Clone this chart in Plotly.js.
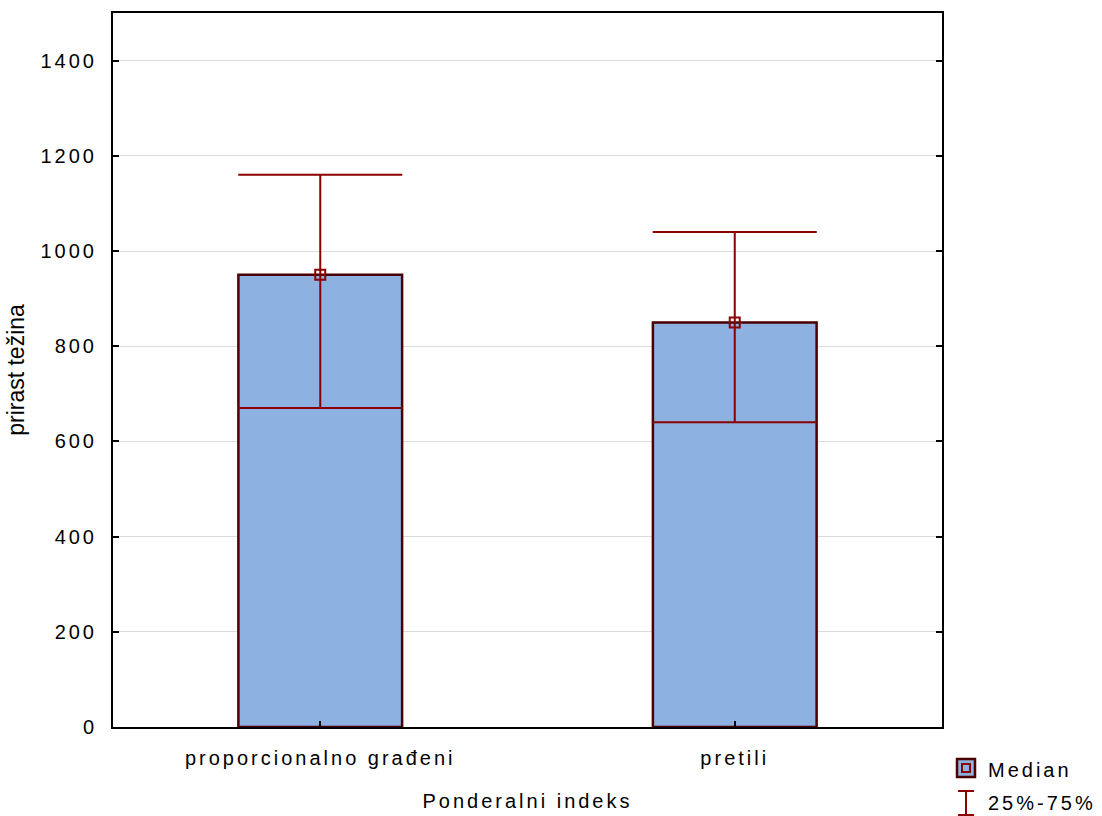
<!DOCTYPE html>
<html>
<head>
<meta charset="utf-8">
<script src="https://cdn.plot.ly/plotly-3.0.1.min.js"></script>
<style>
  html, body { margin: 0; padding: 0; background: #fff; }
  #chart { width: 1102px; height: 816px; }
  .xtick text, .ytick text, .g-xtitle text, .annotation-text { letter-spacing: 3px; }
</style>
</head>
<body>
<div id="chart"></div>
<script>
// Data
const categories = ["proporcionalno građeni", "pretili"];
const medians = [950, 850];
const q25 = [670, 640];
const q75 = [1160, 1040];
const yTickVals = [0, 200, 400, 600, 800, 1000, 1200, 1400];
const legendLabels = ["Median", "25%-75%"];

const fillColor = "#8DB1E1";
const edgeColor = "#4A0000";
const whiskerColor = "#8B0000";
const font = "Liberation Sans, Arial, sans-serif";

// layout geometry
const W = 1102, H = 816;
const mL = 113, mR = 160, mT = 13, mB = 89;
const pw = W - mL - mR, ph = H - mT - mB;
const px = x => (x - mL) / pw;
const py = y => (H - mB - y) / ph;

const barTrace = {
  type: "bar",
  x: categories,
  y: medians,
  width: 0.395,
  marker: { color: fillColor, line: { color: edgeColor, width: 2.5 } },
  error_y: {
    type: "data",
    symmetric: false,
    array: q75.map((v, i) => v - medians[i]),
    arrayminus: medians.map((v, i) => v - q25[i]),
    color: whiskerColor,
    thickness: 2,
    width: 82
  },
  hoverinfo: "skip",
  showlegend: false
};

const medTrace = {
  type: "scatter",
  mode: "markers",
  x: categories,
  y: medians,
  marker: { symbol: "square-open", size: 10, color: whiskerColor, line: { color: whiskerColor, width: 2 } },
  hoverinfo: "skip",
  showlegend: false
};

const shapes = [
  // legend: median icon
  { type: "rect", xref: "paper", yref: "paper",
    x0: px(957), x1: px(975), y0: py(777), y1: py(759),
    fillcolor: fillColor, line: { color: edgeColor, width: 2.5 } },
  { type: "rect", xref: "paper", yref: "paper",
    x0: px(962), x1: px(970), y0: py(772), y1: py(764),
    fillcolor: "rgba(0,0,0,0)", line: { color: whiskerColor, width: 2 } },
  // legend: whisker icon
  { type: "line", xref: "paper", yref: "paper",
    x0: px(966), x1: px(966), y0: py(815), y1: py(791),
    line: { color: whiskerColor, width: 2 } },
  { type: "line", xref: "paper", yref: "paper",
    x0: px(958), x1: px(974), y0: py(791), y1: py(791),
    line: { color: whiskerColor, width: 2 } },
  { type: "line", xref: "paper", yref: "paper",
    x0: px(958), x1: px(974), y0: py(815), y1: py(815),
    line: { color: whiskerColor, width: 2 } }
];

const annotations = [
  { xref: "paper", yref: "paper", x: px(986), y: py(770), xanchor: "left", yanchor: "middle",
    text: legendLabels[0], showarrow: false, font: { family: font, size: 20, color: "#000" } },
  { xref: "paper", yref: "paper", x: px(986), y: py(803), xanchor: "left", yanchor: "middle",
    text: legendLabels[1], showarrow: false, font: { family: font, size: 20, color: "#000" } }
];

const layout = {
  width: W, height: H,
  margin: { l: mL, r: mR, t: mT, b: mB, pad: 0 },
  paper_bgcolor: "#fff",
  plot_bgcolor: "#fff",
  font: { family: font, size: 20, color: "#000" },
  showlegend: false,
  xaxis: {
    type: "category",
    range: [-0.5, 1.5],
    showline: true, linecolor: "#000", linewidth: 2, mirror: true,
    ticks: "inside", ticklen: 6, tickwidth: 2, tickcolor: "#000",
    ticklabelstandoff: 12,
    showgrid: false, zeroline: false,
    tickfont: { family: font, size: 20, color: "#000" },
    title: { text: "Ponderalni indeks", font: { family: font, size: 20, color: "#000" }, standoff: 26 }
  },
  yaxis: {
    range: [0, 1500],
    tickvals: yTickVals,
    ticktext: yTickVals.map(String),
    showline: true, linecolor: "#000", linewidth: 2, mirror: "ticks",
    ticks: "inside", ticklen: 6, tickwidth: 2, tickcolor: "#000",
    ticklabelstandoff: 10,
    showgrid: true, gridcolor: "#DCDCDC", gridwidth: 1,
    zeroline: false,
    tickfont: { family: font, size: 20, color: "#000" },
    title: { text: "prirast težina", font: { family: font, size: 23, color: "#000" }, standoff: 9 }
  },
  shapes: shapes,
  annotations: annotations,
  bargap: 0
};

Plotly.newPlot("chart", [barTrace, medTrace], layout, { staticPlot: true, displayModeBar: false });
</script>
</body>
</html>
